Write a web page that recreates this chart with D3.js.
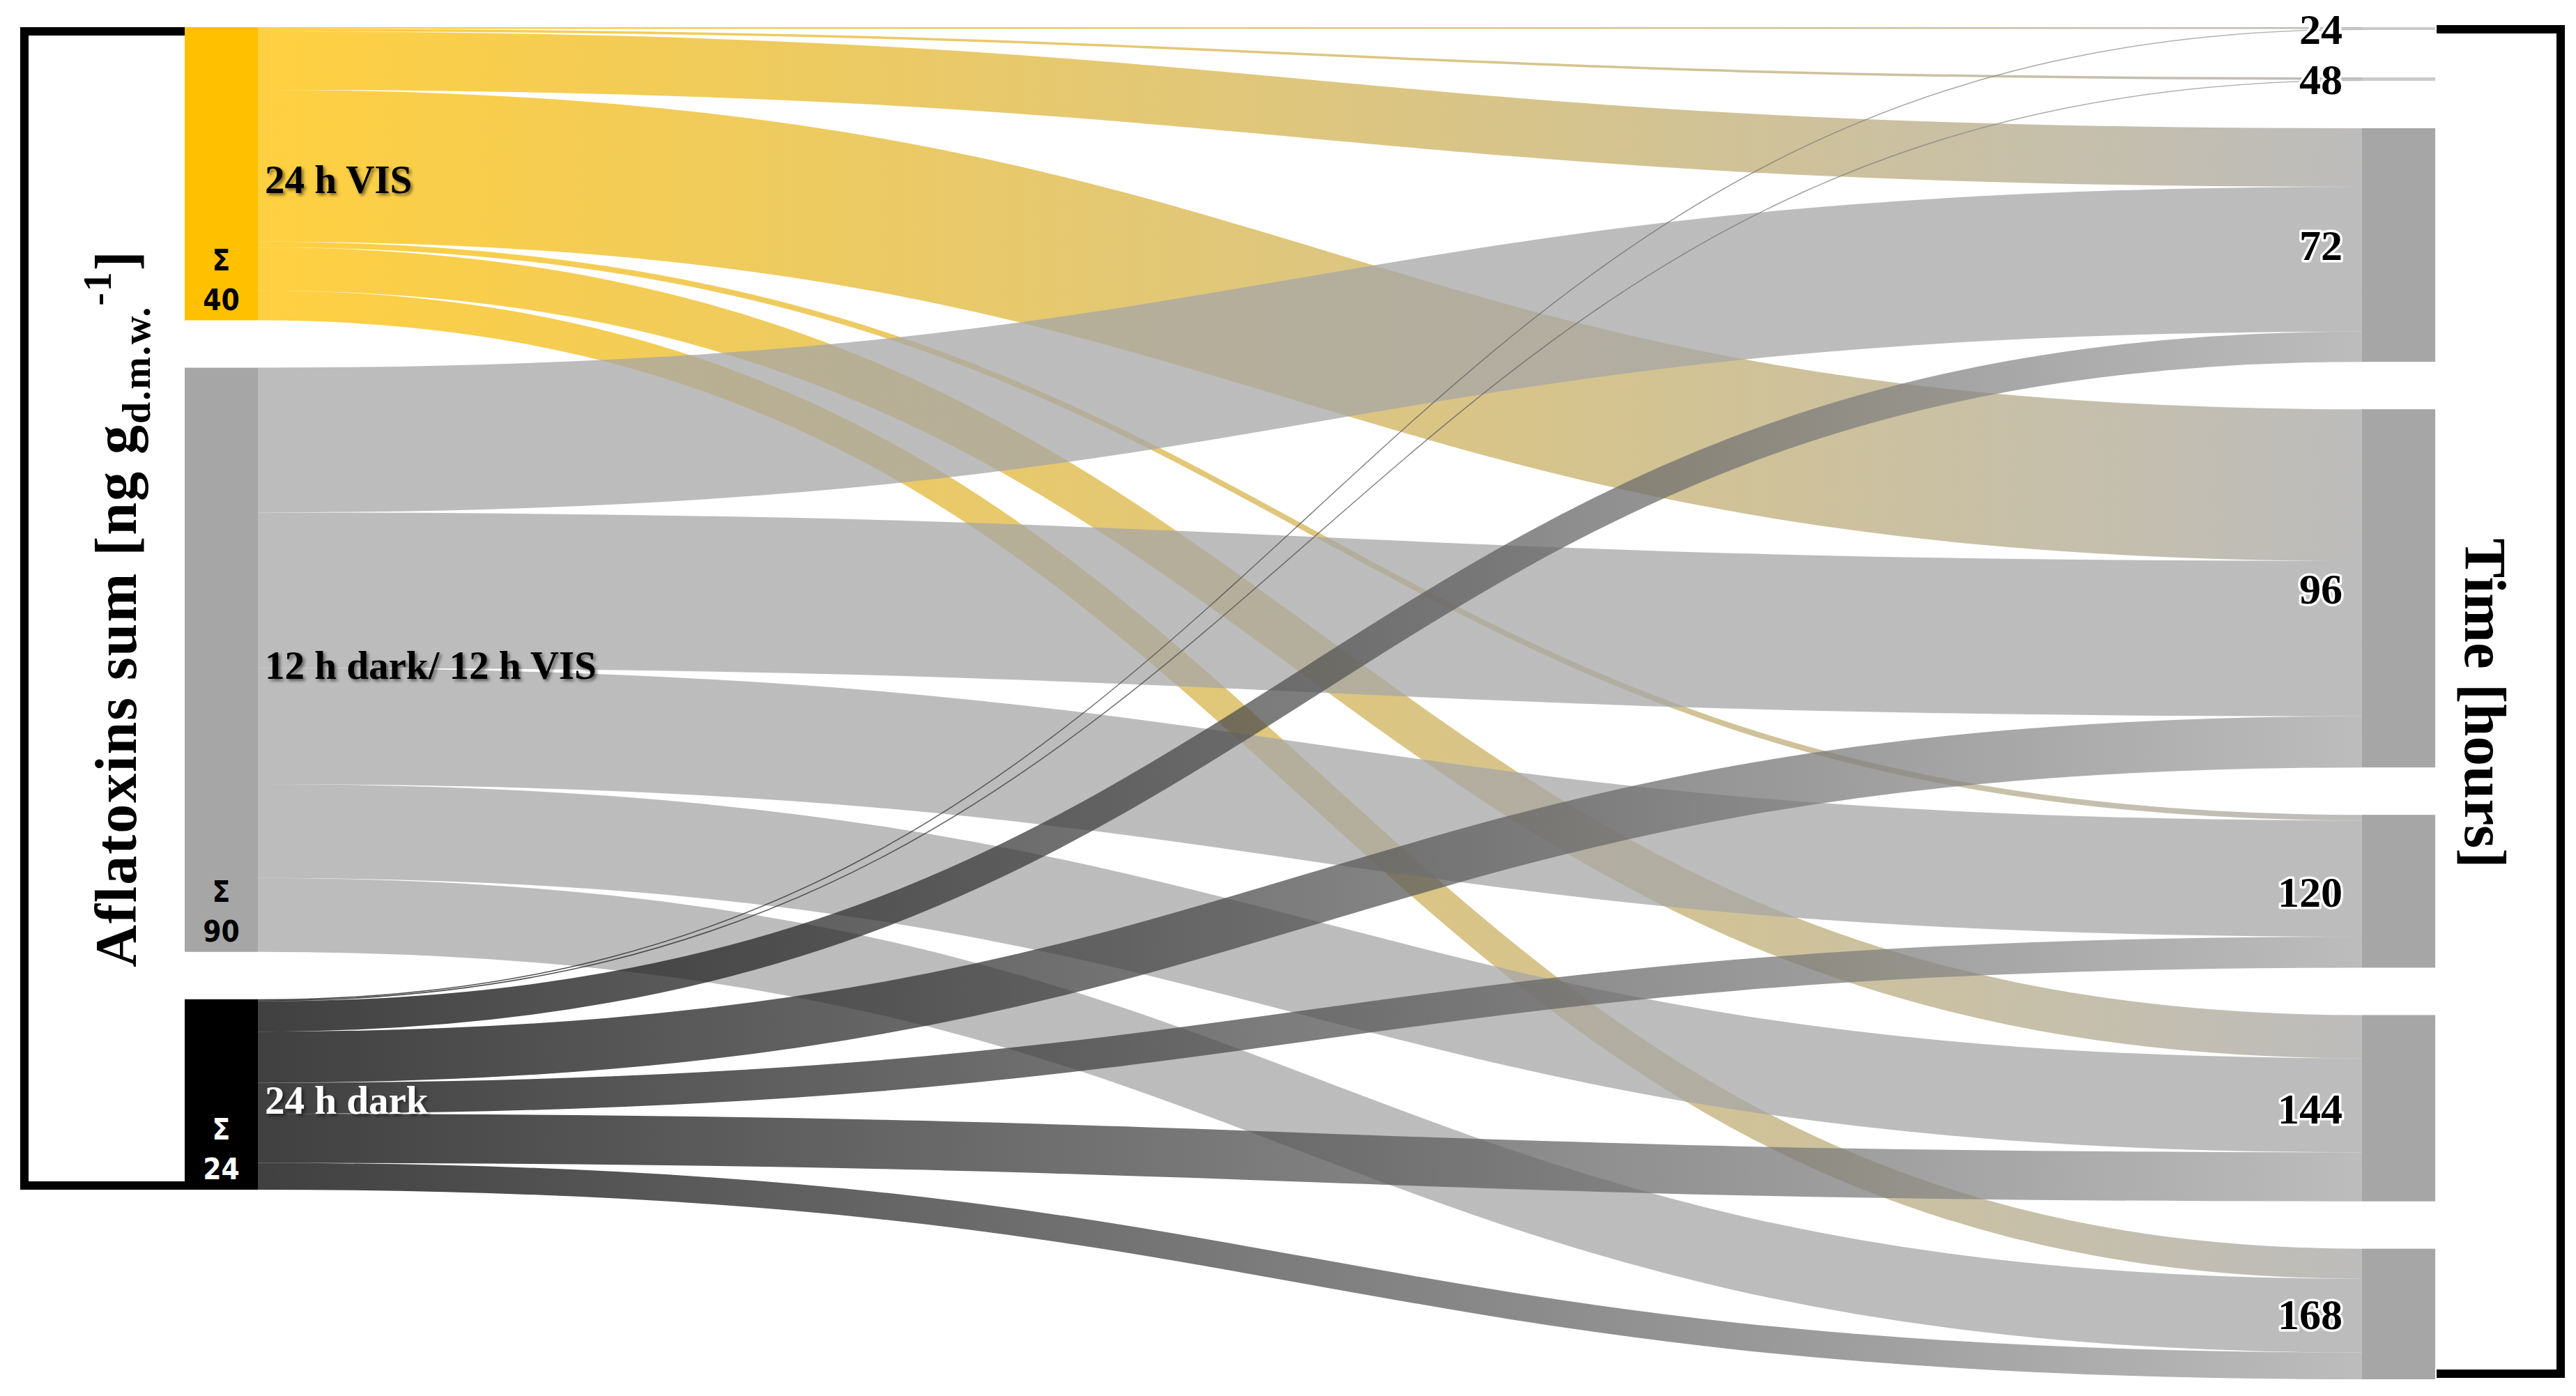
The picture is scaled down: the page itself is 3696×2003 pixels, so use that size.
<!DOCTYPE html>
<html>
<head>
<meta charset="utf-8">
<script src="https://cdn.jsdelivr.net/npm/d3@7"></script>
<style>
  html, body { margin: 0; padding: 0; background: #fff; }
  svg { display: block; }
</style>
</head>
<body>
<div id="chart"></div>
<script>
// light regimes on the left, sampling times on the right
const regimes = ["24 h VIS", "12 h dark/ 12 h VIS", "24 h dark"];
const regimeSums = ["40", "90", "24"];
const times = ["24", "48", "72", "96", "120", "144", "168"];

// flow per sampling time
const visFlows   = [0.25, 0.35, 8.4, 21.8, 0.8, 6.2, 4.3];
const cycleFlows = [0, 0, 20.8, 22.3, 16.7, 13.5, 10.6];
const darkFlows  = [0.15, 0.15, 4.35, 7.35, 4.45, 7.05, 3.85];

const leftTitle = "Aflatoxins sum [ng g";
const leftTitleSub = "d.m.w.";
const leftTitleSup = "-1";
const rightTitle = "Time [hours]";

const width = 3696, height = 2003;
const nodeWidth = 105, nodePad = 68;
const yTop = 39, yBottom = 1979;

let nodeColor = d3.scaleOrdinal().domain(regimes).range(["#ffc000", "#a6a6a6", "#000000"]).unknown("#a6a6a6");
let labelColor = d3.scaleOrdinal().domain(regimes).range(["#000", "#000", "#fff"]);

let svg = d3.select("#chart").append("svg")
    .attr("width", width)
    .attr("height", height);

let defs = svg.append("defs");
defs.append("filter").attr("id", "shadow")
    .attr("x", "-10%").attr("y", "-30%").attr("width", "130%").attr("height", "160%")
    .append("feDropShadow")
    .attr("dx", 3).attr("dy", 3).attr("stdDeviation", 2)
    .attr("flood-color", "#000").attr("flood-opacity", 0.5);

// build nodes + links
let flows = [visFlows, cycleFlows, darkFlows];
let nodes = regimes.map((name, i) => ({ name, col: 0, index: i, sourceLinks: [], targetLinks: [] }))
    .concat(times.map((name, j) => ({ name, col: 1, index: j, sourceLinks: [], targetLinks: [] })));
let links = [];
flows.forEach((row, i) => {
    row.forEach((v, j) => {
        if (v <= 0) return;
        let l = { source: nodes[i], target: nodes[regimes.length + j], value: v };
        l.source.sourceLinks.push(l);
        l.target.targetLinks.push(l);
        links.push(l);
    });
});
nodes.forEach(n => {
    n.value = Math.max(d3.sum(n.sourceLinks, l => l.value), d3.sum(n.targetLinks, l => l.value));
});

let columns = [nodes.filter(n => n.col == 0), nodes.filter(n => n.col == 1)];

// value -> pixel height, set by the fullest column
let ky = d3.min(columns, c => (yBottom - yTop - (c.length - 1) * nodePad) / d3.sum(c, n => n.value));
let h = d3.scaleLinear().domain([0, 1]).range([0, ky]);
let x = d3.scaleLinear().domain([0, 1]).range([265, 3389]);

columns.forEach(c => {
    let yy = yTop;
    c.forEach(n => {
        n.x0 = x(n.col);
        n.x1 = n.x0 + nodeWidth;
        n.y0 = yy;
        n.y1 = yy + h(n.value);
        yy = n.y1 + nodePad;
    });
});

nodes.forEach(n => {
    let sy = n.y0;
    n.sourceLinks.sort((a, b) => a.target.index - b.target.index).forEach(l => {
        l.width = h(l.value);
        l.y0 = sy + l.width / 2;
        sy += l.width;
    });
    let ty = n.y0;
    n.targetLinks.sort((a, b) => a.source.index - b.source.index).forEach(l => {
        l.y1 = ty + h(l.value) / 2;
        ty += h(l.value);
    });
});

// links
let linkPath = d3.linkHorizontal()
    .source(d => [d.source.x1, d.y0])
    .target(d => [d.target.x0, d.y1]);

links.forEach((l, i) => {
    let g = defs.append("linearGradient")
        .attr("id", "grad" + i)
        .attr("gradientUnits", "userSpaceOnUse")
        .attr("x1", l.source.x1).attr("x2", l.target.x0)
        .attr("y1", 0).attr("y2", 0);
    g.append("stop").attr("offset", "0%").attr("stop-color", nodeColor(l.source.name));
    g.append("stop").attr("offset", "100%").attr("stop-color", nodeColor(l.target.name));
    l.grad = "url(#grad" + i + ")";
});

svg.append("g")
    .attr("fill", "none")
    .attr("stroke-opacity", 0.75)
    .selectAll("path")
    .data(links)
    .join("path")
    .attr("d", linkPath)
    .attr("stroke", d => d.grad)
    .attr("stroke-width", d => Math.max(1.5, d.width));

// nodes (the two tiny time nodes are barely visible in the original)
svg.append("g")
    .selectAll("rect")
    .data(nodes)
    .join("rect")
    .attr("x", d => d.x0)
    .attr("y", d => d.y0)
    .attr("width", nodeWidth)
    .attr("height", d => Math.max(2, d.y1 - d.y0))
    .attr("fill", d => nodeColor(d.name))
    .attr("fill-opacity", d => d.value < 1 ? 0.6 : 1);

// brackets
let left = columns[0], right = columns[1];
let bl = d3.path();
bl.moveTo(left[0].x0, left[0].y0 + 6);
bl.lineTo(35, left[0].y0 + 6);
bl.lineTo(35, left[left.length - 1].y1 - 6);
bl.lineTo(left[0].x0, left[left.length - 1].y1 - 6);
let br = d3.path();
br.moveTo(right[0].x1 + 2, right[0].y0 + 3);
br.lineTo(3674, right[0].y0 + 3);
br.lineTo(3674, right[right.length - 1].y1 - 8);
br.lineTo(right[0].x1 + 2, right[right.length - 1].y1 - 8);
svg.append("g")
    .attr("fill", "none")
    .attr("stroke", "#000")
    .attr("stroke-width", 12)
    .selectAll("path")
    .data([bl.toString(), br.toString()])
    .join("path")
    .attr("d", d => d);

// regime labels
svg.append("g")
    .style("font-family", "'Liberation Serif', 'Times New Roman', serif")
    .style("font-weight", "bold")
    .style("font-size", "57px")
    .selectAll("text")
    .data(left)
    .join("text")
    .attr("x", d => d.x1 + 10)
    .attr("y", d => (d.y0 + d.y1) / 2)
    .attr("dy", "0.48em")
    .attr("fill", d => labelColor(d.name))
    .attr("filter", "url(#shadow)")
    .text(d => d.name);

// sums inside the left nodes
let sums = svg.append("g")
    .style("font-family", "'Liberation Sans Narrow', 'DejaVu Sans Condensed', Arial, sans-serif")
    .style("font-weight", "bold")
    .style("font-size", "42px")
    .attr("text-anchor", "middle")
    .selectAll("g")
    .data(left)
    .join("g")
    .attr("fill", d => labelColor(d.name));
sums.append("text")
    .attr("x", d => (d.x0 + d.x1) / 2)
    .attr("y", d => d.y1 - 72)
    .text("Σ");
sums.append("text")
    .attr("x", d => (d.x0 + d.x1) / 2)
    .attr("y", d => d.y1 - 15)
    .text((d, i) => regimeSums[i]);

// time labels
svg.append("g")
    .style("font-family", "'Liberation Serif', 'Times New Roman', serif")
    .style("font-weight", "bold")
    .style("font-size", "62px")
    .attr("text-anchor", "end")
    .selectAll("text")
    .data(right)
    .join("text")
    .attr("x", d => d.x0 - 28)
    .attr("y", d => (d.y0 + d.y1) / 2)
    .attr("dy", "0.35em")
    .attr("fill", "#000")
    .attr("stroke", "#fff")
    .attr("stroke-width", 7)
    .attr("stroke-linejoin", "round")
    .attr("paint-order", "stroke")
    .text(d => d.name);

// axis titles
let lt = svg.append("text")
    .attr("transform", "translate(195," + (left[0].y0 + left[left.length - 1].y1) / 2 + ") rotate(-90)")
    .attr("text-anchor", "middle")
    .style("font-family", "'Liberation Serif', 'Times New Roman', serif")
    .style("font-weight", "bold")
    .style("font-size", "84px")
    .style("letter-spacing", "2px")
    .attr("fill", "#000");
lt.append("tspan").text(leftTitle);
lt.append("tspan").style("font-size", "56px").attr("dy", 20).text(leftTitleSub);
lt.append("tspan").style("font-size", "56px").attr("dy", -56).text(leftTitleSup);
lt.append("tspan").attr("dy", 36).text("]");

svg.append("text")
    .attr("transform", "translate(3537," + (right[0].y0 + right[right.length - 1].y1) / 2 + ") rotate(90)")
    .attr("text-anchor", "middle")
    .style("font-family", "'Liberation Serif', 'Times New Roman', serif")
    .style("font-weight", "bold")
    .style("font-size", "85px")
    .attr("fill", "#000")
    .text(rightTitle);
</script>
</body>
</html>
